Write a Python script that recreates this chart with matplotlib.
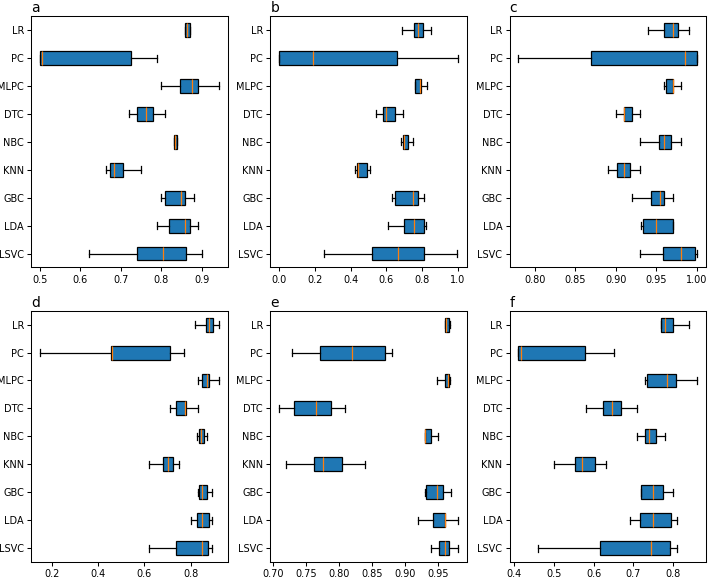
import matplotlib
matplotlib.use("Agg")
from matplotlib import pyplot as plt

models = ["LR", "PC", "MLPC", "DTC", "NBC", "KNN", "GBC", "LDA", "LSVC"]
panel_names = ["a", "b", "c", "d", "e", "f"]

# (whisker low, q1, median, q3, whisker high) per model
panel_a = [(0.86, 0.86, 0.865, 0.87, 0.87),
           (0.50, 0.50, 0.504, 0.725, 0.79),
           (0.80, 0.846, 0.875, 0.89, 0.942),
           (0.72, 0.741, 0.762, 0.78, 0.81),
           (0.832, 0.832, 0.834, 0.838, 0.838),
           (0.662, 0.672, 0.682, 0.706, 0.75),
           (0.80, 0.809, 0.849, 0.86, 0.88),
           (0.79, 0.818, 0.86, 0.87, 0.89),
           (0.621, 0.741, 0.805, 0.862, 0.90)]
panel_b = [(0.69, 0.753, 0.775, 0.805, 0.852),
           (0.0, 0.0, 0.19, 0.66, 1.0),
           (0.762, 0.762, 0.788, 0.793, 0.83),
           (0.544, 0.581, 0.60, 0.646, 0.692),
           (0.683, 0.692, 0.70, 0.721, 0.751),
           (0.424, 0.434, 0.443, 0.489, 0.507),
           (0.63, 0.65, 0.75, 0.775, 0.81),
           (0.61, 0.70, 0.756, 0.81, 0.82),
           (0.25, 0.517, 0.664, 0.81, 0.993)]
panel_c = [(0.94, 0.96, 0.97, 0.977, 0.99),
           (0.78, 0.87, 0.985, 1.0, 1.0),
           (0.96, 0.962, 0.97, 0.97, 0.98),
           (0.90, 0.91, 0.91, 0.92, 0.93),
           (0.93, 0.953, 0.96, 0.968, 0.98),
           (0.89, 0.902, 0.91, 0.917, 0.93),
           (0.92, 0.943, 0.955, 0.96, 0.97),
           (0.931, 0.933, 0.95, 0.97, 0.97),
           (0.93, 0.958, 0.98, 0.998, 1.0)]
panel_d = [(0.82, 0.865, 0.88, 0.895, 0.92),
           (0.15, 0.455, 0.46, 0.71, 0.77),
           (0.83, 0.85, 0.87, 0.88, 0.92),
           (0.71, 0.735, 0.775, 0.78, 0.83),
           (0.825, 0.835, 0.845, 0.855, 0.87),
           (0.62, 0.68, 0.70, 0.725, 0.75),
           (0.83, 0.835, 0.85, 0.87, 0.89),
           (0.80, 0.825, 0.85, 0.88, 0.89),
           (0.62, 0.735, 0.85, 0.875, 0.89)]
panel_e = [(0.96, 0.96, 0.962, 0.967, 0.968),
           (0.73, 0.772, 0.82, 0.87, 0.88),
           (0.948, 0.96, 0.965, 0.967, 0.968),
           (0.71, 0.733, 0.765, 0.788, 0.81),
           (0.93, 0.93, 0.931, 0.94, 0.95),
           (0.72, 0.763, 0.776, 0.805, 0.84),
           (0.93, 0.932, 0.949, 0.958, 0.97),
           (0.92, 0.942, 0.96, 0.96, 0.98),
           (0.94, 0.952, 0.96, 0.967, 0.98)]
panel_f = [(0.77, 0.77, 0.78, 0.80, 0.84),
           (0.41, 0.41, 0.416, 0.578, 0.65),
           (0.73, 0.735, 0.785, 0.808, 0.86),
           (0.58, 0.622, 0.645, 0.668, 0.71),
           (0.71, 0.73, 0.74, 0.758, 0.78),
           (0.50, 0.552, 0.57, 0.603, 0.63),
           (0.72, 0.72, 0.75, 0.775, 0.80),
           (0.69, 0.717, 0.75, 0.795, 0.81),
           (0.46, 0.615, 0.745, 0.793, 0.81)]

panels = [panel_a, panel_b, panel_c, panel_d, panel_e, panel_f]

plt.rcParams.update({"font.size": 7, "axes.linewidth": 0.75,
                     "xtick.major.size": 2.6, "ytick.major.size": 2.6,
                     "xtick.major.pad": 2.6, "ytick.major.pad": 2.6,
                     "xtick.major.width": 0.75, "ytick.major.width": 0.75})

fig, axes = plt.subplots(nrows=2, ncols=3, figsize=(7.08, 5.77), dpi=100)
fig.subplots_adjust(left=0.044, right=0.997, top=0.972, bottom=0.026,
                    wspace=0.218, hspace=0.172)

positions = list(range(len(models), 0, -1))

for ax, name, data in zip(axes.flat, panel_names, panels):
    stats = []
    for m, (lo, q1, med, q3, hi) in zip(models, data):
        stats.append({"label": m, "whislo": lo, "q1": q1, "med": med,
                      "q3": q3, "whishi": hi, "fliers": []})
    ax.bxp(stats, positions=positions, orientation="horizontal",
           patch_artist=True, showfliers=False,
           boxprops=dict(facecolor="#1f77b4", edgecolor="black", linewidth=0.9),
           whiskerprops=dict(linewidth=0.9),
           capprops=dict(linewidth=0.9),
           medianprops=dict(color="#ff7f0e", linewidth=0.9))
    ax.set_ylim(0.5, len(models) + 0.5)
    ax.autoscale(axis="x")
    ax.margins(x=0.05)
    ax.set_title(name, loc="left", fontsize=10, pad=3)

fig.savefig("out.png")
